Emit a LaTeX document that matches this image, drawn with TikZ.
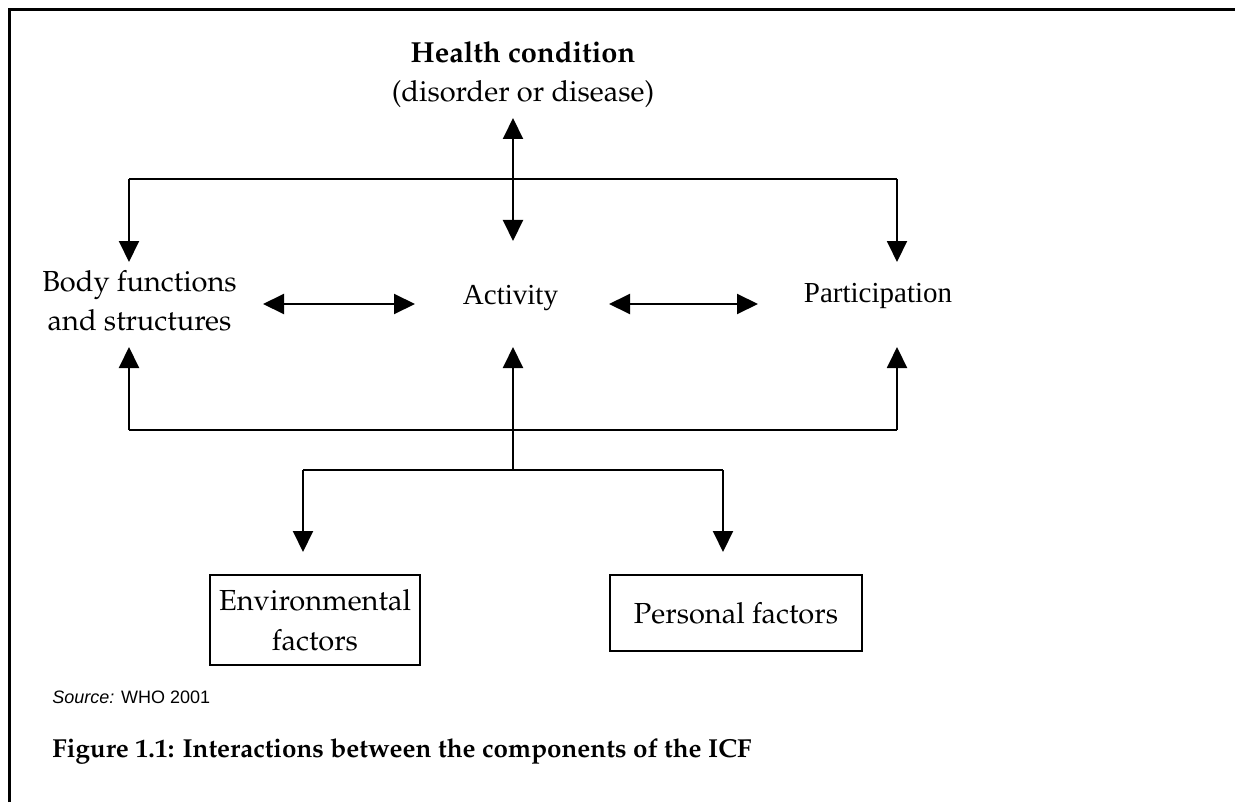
\documentclass[tikz,border=0pt]{standalone}
\usepackage[T1,TU]{fontenc}
\usepackage{fontspec}
\setmainfont{Liberation Serif}
\newfontfamily\arialf{Liberation Sans}
\newcommand\palf{\fontencoding{T1}\fontfamily{ppl}\selectfont}
\usetikzlibrary{arrows.meta}
\tikzset{
  conn/.style={line width=1pt},
  arr/.style={conn,-{Triangle[length=10.5pt,width=10pt]}},
  darr/.style={conn,{Triangle[length=10.5pt,width=10pt]}-{Triangle[length=10.5pt,width=10pt]}},
  lbl/.style={inner sep=0pt,font=\palf\fontsize{14.5}{19.5}\selectfont,align=center},
  tlbl/.style={inner sep=0pt,font=\fontsize{14.5}{19}\selectfont},
  boxn/.style={draw,line width=1pt,inner sep=0pt,font=\palf\fontsize{14.5}{20}\selectfont,align=center}
}
\begin{document}
\begin{tikzpicture}[x=0.5pt,y=-0.5pt]
\useasboundingbox (0,0) rectangle (1235,802);
% frame
\draw[line width=1.5pt] (9,802) -- (9,10) -- (1235,10);
% texts
\node[lbl,anchor=north] (hc) at (523,41) {\textbf{Health condition}\\(disorder or disease)};
\node[lbl,anchor=north] (body) at (139.5,270) {Body functions\\and structures};
\node[tlbl,anchor=base] (act) at (510.5,304) {Activity};
\node[tlbl,anchor=base] (part) at (878,302) {Participation};
\node[boxn,minimum width=105pt,minimum height=45pt] (env) at (315,620) {Environmental\\factors};
\node[boxn,minimum width=126pt,minimum height=38pt] (pers) at (736,613) {Personal factors};
\node[anchor=base west,inner sep=0pt,font=\arialf\fontsize{9}{10}\selectfont] (src) at (52,703) {\textit{Source:} WHO 2001};
\node[anchor=base west,inner sep=0pt,font=\palf\bfseries\fontsize{13}{15}\selectfont] (cap) at (52,757) {Figure 1.1: Interactions between the components of the ICF};
% coordinates
\coordinate (hcA) at (513,118);
\coordinate (actT) at (513,241);
\coordinate (tl) at (129,179);
\coordinate (tr) at (897,179);
\coordinate (bodyT) at (129,262);
\coordinate (partT) at (897,262);
\coordinate (bodyB) at (129,347);
\coordinate (partB) at (897,347);
\coordinate (actB) at (513,347);
\coordinate (bl) at (129,430);
\coordinate (br) at (897,430);
\coordinate (bm) at (513,430);
\coordinate (sm) at (513,470);
\coordinate (sl) at (303,470);
\coordinate (sr) at (723,470);
\coordinate (envT) at (303,552);
\coordinate (persT) at (723,552);
\coordinate (ba1) at (263,304);
\coordinate (ba2) at (415,304);
\coordinate (ap1) at (609,304);
\coordinate (ap2) at (758,304);
% connectors
\draw[darr] (hcA) -- (actT);
\draw[conn] (tl) -- (tr);
\draw[arr] (tl) -- (bodyT);
\draw[arr] (tr) -- (partT);
\draw[darr] (ba1) -- (ba2);
\draw[darr] (ap1) -- (ap2);
\draw[conn] (bl) -- (br);
\draw[arr] (bl) -- (bodyB);
\draw[arr] (br) -- (partB);
\draw[arr] (sm) -- (actB);
\draw[conn] (sl) -- (sr);
\draw[arr] (sl) -- (envT);
\draw[arr] (sr) -- (persT);
\end{tikzpicture}
\end{document}
